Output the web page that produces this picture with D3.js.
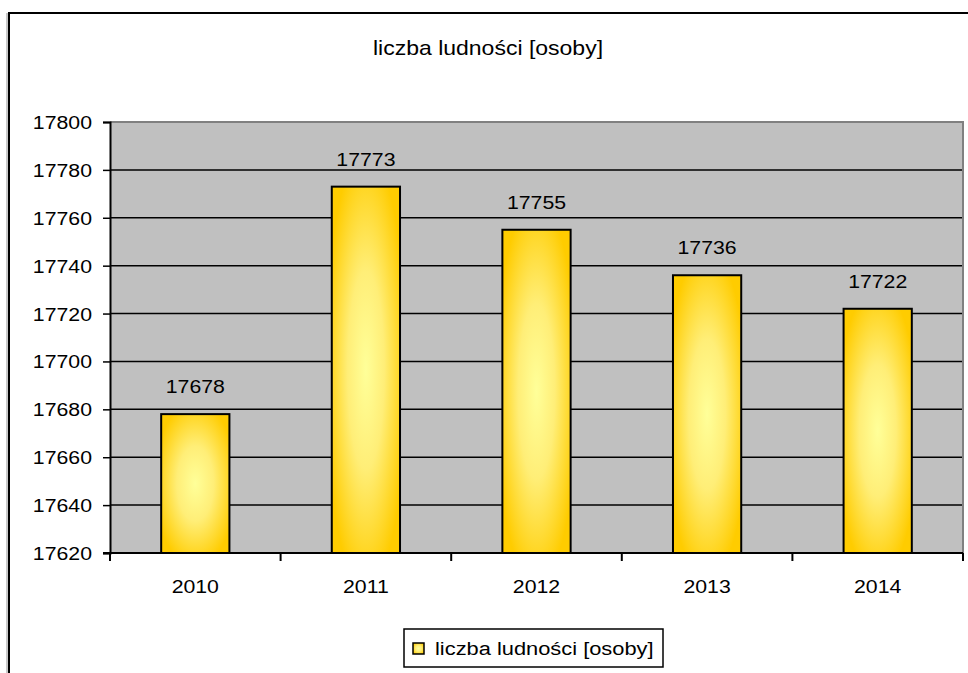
<!DOCTYPE html>
<html>
<head>
<meta charset="utf-8">
<script src="https://cdn.jsdelivr.net/npm/d3@7"></script>
<style>
  body { margin: 0; background: #fff; }
  svg text { font-family: "Liberation Sans", Arial, sans-serif; fill: #000; }
</style>
</head>
<body>
<div id="chart"></div>
<script>
const years = ['2010', '2011', '2012', '2013', '2014'];
const population = [17678, 17773, 17755, 17736, 17722];
const yTicks = [17620, 17640, 17660, 17680, 17700, 17720, 17740, 17760, 17780, 17800];
const title = 'liczba ludności [osoby]';

const width = 968,
  height = 673;
const plot = { left: 110, right: 963, top: 122, bottom: 553 };
const fontSize = 19;
const stretch = 'scale(1.12,1)';

const svg = d3.select('#chart').append('svg')
    .attr('width', width)
    .attr('height', height);

const defs = svg.append('defs');
const grad = defs.append('radialGradient')
    .attr('id', 'barFill')
    .attr('cx', '50%').attr('cy', '50%').attr('r', '60%');
grad.append('stop').attr('offset', '0%').attr('stop-color', '#ffff99');
grad.append('stop').attr('offset', '45%').attr('stop-color', '#ffee77');
grad.append('stop').attr('offset', '100%').attr('stop-color', '#ffcc00');

// outer chart frame
svg.append('rect')
    .attr('x', 7).attr('y', 14)
    .attr('width', width + 20).attr('height', height + 20)
    .attr('fill', 'none')
    .attr('stroke', '#c8c8c8')
    .attr('stroke-width', 2);
svg.append('rect')
    .attr('x', 9).attr('y', 13)
    .attr('width', width + 20).attr('height', height + 20)
    .attr('fill', '#fff')
    .attr('stroke', '#000')
    .attr('stroke-width', 2);

const x = d3.scaleBand()
    .domain(years)
    .range([plot.left, plot.right])
    .paddingInner(0.6)
    .paddingOuter(0.3);

const y = d3.scaleLinear()
    .domain([17620, 17800])
    .range([plot.bottom, plot.top]);

// plot area
svg.append('rect')
    .attr('x', plot.left).attr('y', plot.top)
    .attr('width', plot.right - plot.left)
    .attr('height', plot.bottom - plot.top)
    .attr('fill', '#c0c0c0');
svg.append('path')
    .attr('d', `M${plot.left},${plot.top}H${plot.right}V${plot.bottom}`)
    .attr('fill', 'none')
    .attr('stroke', '#808080')
    .attr('stroke-width', 2);

// gridlines
svg.append('g')
    .selectAll('line')
    .data(yTicks.slice(1, -1))
  .enter().append('line')
    .attr('x1', plot.left).attr('x2', plot.right - 1)
    .attr('y1', (d) => y(d)).attr('y2', (d) => y(d))
    .attr('stroke', '#000')
    .attr('stroke-width', 1.5);

// y axis
const yAxis = d3.axisLeft(y)
    .tickValues(yTicks)
    .tickSize(7)
    .tickPadding(11)
    .tickFormat(d3.format('d'));
const gy = svg.append('g')
    .attr('transform', `translate(${plot.left},0)`)
    .call(yAxis);
gy.select('.domain').attr('stroke', '#000').attr('stroke-width', 2);
gy.selectAll('.tick line').attr('stroke', '#000').attr('stroke-width', 1.5);
// stretch y labels horizontally around their right end
gy.selectAll('.tick text')
    .attr('font-size', fontSize)
    .attr('font-family', '"Liberation Sans", Arial, sans-serif')
    .attr('dy', '0.34em')
    .attr('x', 0)
    .attr('text-anchor', 'end')
    .attr('transform', `translate(-18,0) ${stretch}`);

// x axis
const gx = svg.append('g')
    .attr('transform', `translate(0,${plot.bottom})`);
gx.append('line')
    .attr('x1', plot.left - 7).attr('x2', plot.right)
    .attr('stroke', '#000').attr('stroke-width', 2);
const bounds = years.map((d) => x(d) - x.step() * x.paddingInner() / 2).concat([plot.right]);
gx.selectAll('.xtick')
    .data(bounds)
  .enter().append('line')
    .attr('class', 'xtick')
    .attr('x1', (d) => d).attr('x2', (d) => d)
    .attr('y1', 0).attr('y2', 8)
    .attr('stroke', '#000').attr('stroke-width', 2);
gx.selectAll('.xlabel')
    .data(years)
  .enter().append('text')
    .attr('class', 'xlabel')
    .attr('text-anchor', 'middle')
    .attr('font-size', fontSize)
    .attr('transform', (d) => `translate(${x(d) + x.bandwidth() / 2},40) ${stretch}`)
    .text((d) => d);

// bars
const data = years.map((d, i) => ({ year: d, value: population[i] }));
svg.append('g')
    .selectAll('rect')
    .data(data)
  .enter().append('rect')
    .attr('x', (d) => x(d.year))
    .attr('y', (d) => y(d.value))
    .attr('width', x.bandwidth())
    .attr('height', (d) => plot.bottom - y(d.value))
    .attr('fill', 'url(#barFill)')
    .attr('stroke', '#000')
    .attr('stroke-width', 2);

// value labels
svg.append('g')
    .selectAll('text')
    .data(data)
  .enter().append('text')
    .attr('text-anchor', 'middle')
    .attr('font-size', fontSize)
    .attr('transform', (d) => `translate(${x(d.year) + x.bandwidth() / 2},${y(d.value) - 21}) ${stretch}`)
    .text((d) => d.value);

// title
svg.append('text')
    .attr('text-anchor', 'middle')
    .attr('font-size', 20)
    .attr('transform', 'translate(488,55) scale(1.15,1)')
    .text(title);

// legend
const legend = svg.append('g').attr('transform', 'translate(404,629)');
legend.append('rect')
    .attr('width', 259).attr('height', 38)
    .attr('fill', '#fff')
    .attr('stroke', '#000')
    .attr('stroke-width', 1.5);
legend.append('rect')
    .attr('x', 9).attr('y', 14)
    .attr('width', 11).attr('height', 11)
    .attr('fill', 'url(#barFill)')
    .attr('stroke', '#000')
    .attr('stroke-width', 1.5);
legend.append('text')
    .attr('font-size', fontSize)
    .attr('transform', 'translate(31,26) scale(1.15,1)')
    .text(title);
</script>
</body>
</html>
